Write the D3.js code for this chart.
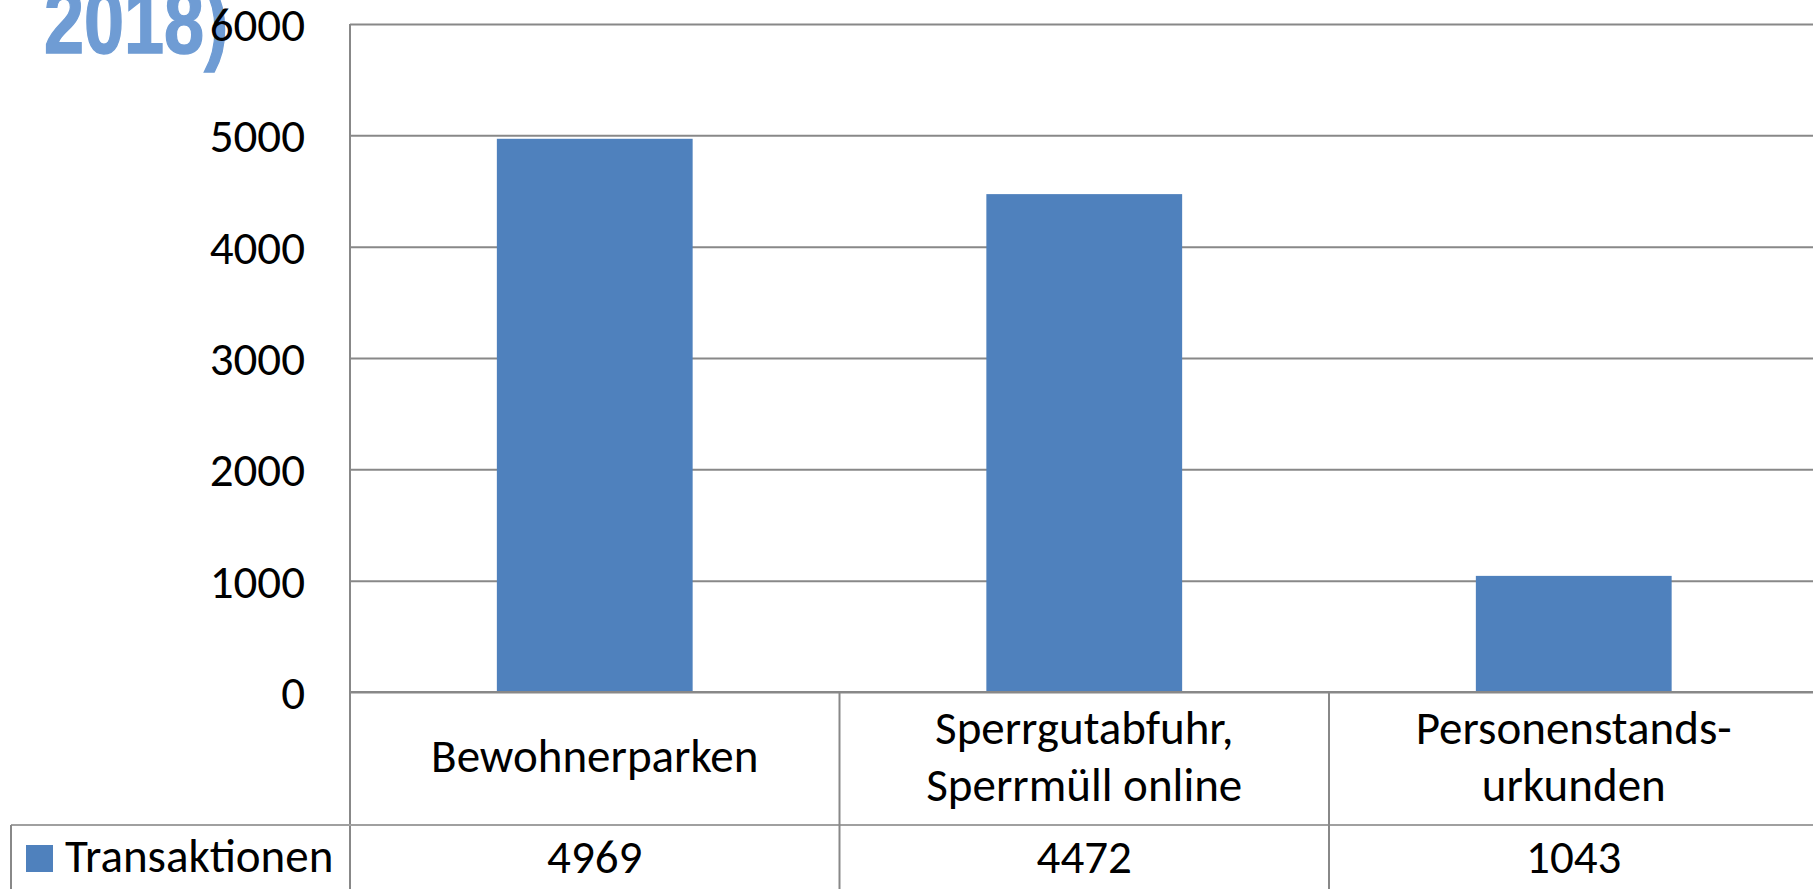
<!DOCTYPE html>
<html lang="de">
<head>
  <meta charset="UTF-8">
  <title>Transaktionen 2018</title>
  <style>
    body { margin: 0; background: #fff; }
    svg { display: block; }
    .lbl { font-family: Carlito, Calibri, Lato, sans-serif; font-size: 47px; fill: #000; }
  </style>
</head>
<body>
  <svg id="chart"></svg>
  <script src="https://cdn.jsdelivr.net/npm/d3@7"></script>
  <script>
    var W = 1813, H = 889;
    var categories = ["Bewohnerparken", "Sperrgutabfuhr, Sperrmüll online", "Personenstands-urkunden"];
    // labels as they wrap in the table
    var categoryLines = [["Bewohnerparken"], ["Sperrgutabfuhr,", "Sperrmüll online"], ["Personenstands-", "urkunden"]];
    var seriesName = "Transaktionen";
    var values = [4969, 4472, 1043];
    var yTicks = [0, 1000, 2000, 3000, 4000, 5000, 6000];

    var plotLeft = 350, plotTop = 24, zeroY = 692, rowY = 825, legendX = 11;
    var step = 489.5;
    var gridColor = "#888888", barColor = "#4f81bd";

    var svg = d3.select("#chart").attr("width", W).attr("height", H);

    var x = d3.scaleBand()
      .domain(categories)
      .range([plotLeft, plotLeft + step * categories.length])
      .paddingInner(0.6)
      .paddingOuter(0.3);

    var y = d3.scaleLinear().domain([0, 6000]).range([zeroY, plotTop]);

    // title fragment, cut off at the top
    svg.append("text")
      .attr("transform", "translate(44,53) scale(0.8,1)")
      .attr("font-family", "'Liberation Sans Narrow', 'Arial Narrow', 'Liberation Sans', sans-serif")
      .attr("font-weight", "bold")
      .attr("font-size", 90)
      .attr("fill", "#6f9cd4")
      .attr("stroke", "#6f9cd4")
      .attr("stroke-width", 1.5)
      .text("2018)");

    // gridlines
    svg.append("g")
      .attr("transform", `translate(${plotLeft},0)`)
      .call(d3.axisLeft(y).tickValues(yTicks).tickSize(-(W - plotLeft)).tickFormat(""))
      .call(g => g.select(".domain").remove())
      .call(g => g.selectAll("line").attr("stroke", gridColor).attr("stroke-width", 2));

    // y labels
    svg.append("g")
      .attr("transform", `translate(305,0)`)
      .call(d3.axisLeft(y).tickValues(yTicks).tickSize(0).tickPadding(0).tickFormat(d3.format("d")))
      .call(g => g.select(".domain").remove())
      .call(g => g.selectAll("text").attr("class", "lbl").attr("fill", null).attr("dy", "0.35em"))
      .attr("font-size", null).attr("font-family", null);

    // bars
    svg.selectAll("rect.bar")
      .data(values)
      .enter()
      .append("rect")
        .attr("class", "bar")
        .attr("x", (d, i) => x(categories[i]))
        .attr("y", d => y(d))
        .attr("width", x.bandwidth())
        .attr("height", d => y(0) - y(d))
        .attr("fill", barColor);

    // data table lines
    var lines = svg.append("g").attr("stroke", gridColor).attr("stroke-width", 2);
    lines.append("line").attr("x1", plotLeft).attr("x2", W).attr("y1", zeroY).attr("y2", zeroY);
    lines.append("line").attr("x1", plotLeft).attr("x2", plotLeft).attr("y1", plotTop).attr("y2", H);
    lines.append("line").attr("x1", legendX).attr("x2", W).attr("y1", rowY).attr("y2", rowY).attr("stroke", "#a0a0a0");
    lines.append("line").attr("x1", legendX).attr("x2", legendX).attr("y1", rowY).attr("y2", H);
    lines.selectAll("line.div")
      .data(categories.slice(1))
      .enter()
      .append("line")
        .attr("class", "div")
        .attr("x1", d => x(d) - x.step() * x.paddingInner() / 2)
        .attr("x2", d => x(d) - x.step() * x.paddingInner() / 2)
        .attr("y1", zeroY).attr("y2", H);

    // category labels
    var lineGap = 57;
    svg.selectAll("text.cat")
      .data(categoryLines)
      .enter()
      .append("text")
        .attr("class", "lbl cat")
        .attr("text-anchor", "middle")
        .attr("x", (d, i) => x(categories[i]) + x.bandwidth() / 2)
        .attr("y", d => 772 - (d.length - 1) * lineGap / 2)
        .selectAll("tspan")
        .data(d => d)
        .enter()
        .append("tspan")
          .attr("x", function () { return this.parentNode.getAttribute("x"); })
          .attr("dy", (d, i) => i ? lineGap : 0)
          .text(d => d);

    // values row
    svg.selectAll("text.val")
      .data(values)
      .enter()
      .append("text")
        .attr("class", "lbl val")
        .attr("text-anchor", "middle")
        .attr("x", (d, i) => x(categories[i]) + x.bandwidth() / 2)
        .attr("y", 873)
        .text(d => d);

    // legend key
    svg.append("rect")
      .attr("x", 26).attr("y", 845).attr("width", 27).attr("height", 27)
      .attr("fill", barColor);
    svg.append("text")
      .attr("class", "lbl")
      .attr("x", 65).attr("y", 872)
      .text(seriesName);
  </script>
</body>
</html>
